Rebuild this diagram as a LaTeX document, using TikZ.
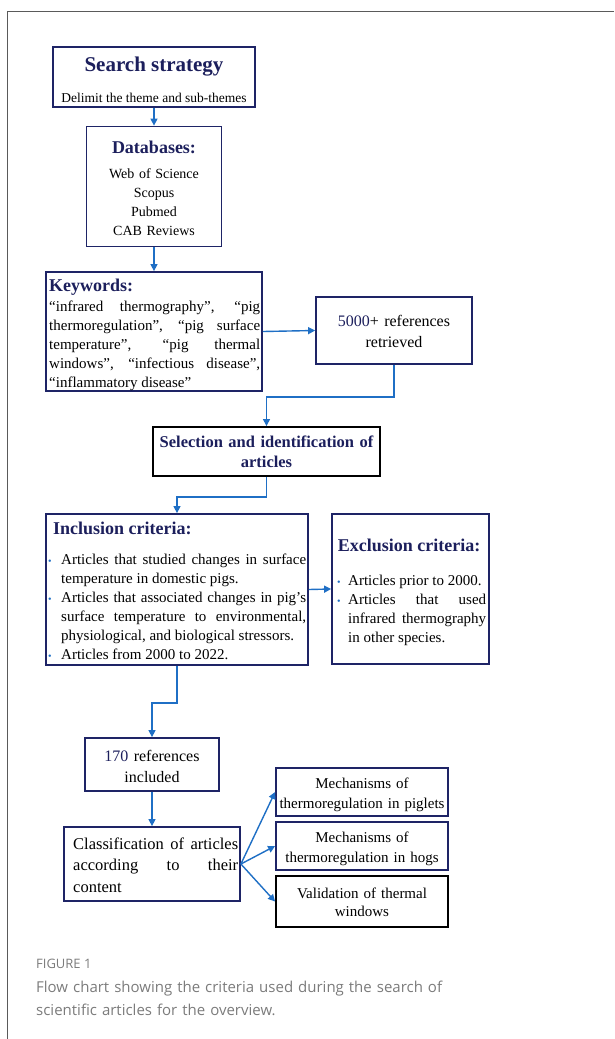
\documentclass[tikz,border=0pt]{standalone}
\usepackage{fontspec}
\setmainfont{Liberation Serif}
\newfontfamily\capfont{Open Sans}
\usetikzlibrary{arrows.meta}
\definecolor{navy}{HTML}{1C1F5C}
\definecolor{boxcol}{HTML}{1E2466}
\definecolor{arrcol}{HTML}{1F6FC5}
\definecolor{capgrey}{HTML}{7B7B7B}
\definecolor{framegrey}{HTML}{5A5A5A}
\tikzset{
  box/.style={draw=boxcol, line width=1.8pt, inner sep=0pt},
  blackbox/.style={draw=black, line width=1.9pt, inner sep=0pt},
  conn/.style={draw=arrcol, line width=1.4pt, -{Triangle[length=7pt,width=7pt]}},
  ctext/.style={anchor=base, inner sep=0pt, align=center},
  jtext/.style={anchor=base west, inner sep=0pt, align=justify},
  ltext/.style={anchor=base west, inner sep=0pt},
  head/.style={font=\bfseries\fontsize{18}{20}\selectfont, text=navy},
  body/.style={font=\fontsize{14}{19}\selectfont},
  jbody/.style={font=\fontsize{15}{19}\selectfont}
}
\newcommand{\bitem}[2]{\noindent\hangindent=#1pt\hangafter=1\makebox[#1pt][l]{\textcolor{arrcol}{\fontsize{10}{10}\selectfont•}}#2\par}
\begin{document}
\begin{tikzpicture}[x=1pt,y=-1pt]
\useasboundingbox (0,0) rectangle (614,1039);
\draw[framegrey, line width=1pt] (614,11) -- (7,11) -- (7,1039);

% boxes
\node[box, minimum width=202, minimum height=60] (ss) at (154,77) {};
\node[box, minimum width=135, minimum height=120] (db) at (154,186.5) {};
\node[box, minimum width=216, minimum height=119] (kw) at (154,331.5) {};
\node[box, minimum width=156, minimum height=67] (r5) at (394,330.5) {};
\node[blackbox, minimum width=227, minimum height=49] (sel) at (266.5,451.5) {};
\node[box, minimum width=262, minimum height=151] (inc) at (177,589.5) {};
\node[box, minimum width=157, minimum height=150] (exc) at (410.5,589) {};
\node[box, minimum width=134, minimum height=53] (r170) at (152,764.5) {};
\node[box, minimum width=176, minimum height=74] (cls) at (152,864) {};
\node[box, minimum width=172, minimum height=48] (m1) at (362,792) {};
\node[box, minimum width=172, minimum height=48] (m2) at (362,846) {};
\node[blackbox, minimum width=172, minimum height=51] (m3) at (362,901.5) {};

% texts
\node[ctext, font=\bfseries\fontsize{21}{24}\selectfont, text=navy] (sst) at (154,71) {Search strategy};
\node[ctext, font=\fontsize{13.5}{16}\selectfont] (ssd) at (154,102) {Delimit the theme and sub-themes};

\node[ctext, head] (dbt) at (154,153) {Databases:};
\node[ctext, body, text width=125] (dbl) at (154,178) {Web of Science\\Scopus\\Pubmed\\CAB Reviews};

\node[ltext, head] (kwt) at (49,291) {Keywords:};
\node[jtext, jbody, text width=211] (kwl) at (49,311) {“infrared thermography”, “pig\linebreak thermoregulation”, “pig surface\linebreak temperature”, “pig thermal\linebreak windows”, “infectious disease”,\linebreak “inflammatory disease”};

\node[ctext, text width=150, font=\fontsize{16}{21}\selectfont] (r5t) at (394,326) {\textcolor{navy}{5000}+ references\\retrieved};

\node[ctext, text width=222, font=\bfseries\fontsize{16.5}{20}\selectfont, text=navy] (selt) at (266.5,447) {Selection and identification of\\articles};

\node[ltext, head] (inct) at (53,534) {Inclusion criteria:};
\node[jtext, jbody, text width=258] (incl) at (48,564) {\bitem{13}{Articles that studied changes in surface\linebreak temperature in domestic pigs.}\bitem{13}{Articles that associated changes in pig’s\linebreak surface temperature to environmental,\linebreak physiological, and biological stressors.}\bitem{13}{Articles from 2000 to 2022.}};

\node[ctext, head] (exct) at (409,551) {Exclusion criteria:};
\node[jtext, jbody, text width=149] (excl) at (337,585) {\bitem{11}{Articles prior to 2000.}\bitem{11}{Articles that used\linebreak infrared thermography\linebreak in other species.}};

\node[ctext, text width=130, font=\fontsize{16}{21}\selectfont] (r170t) at (152,761) {\textcolor{navy}{170} references\\included};

\node[jtext, text width=165, font=\fontsize{16.5}{21.5}\selectfont] (clst) at (73,849) {Classification of articles\linebreak according to their\linebreak content};

\node[ctext, text width=170, font=\fontsize{15}{20}\selectfont] (m1t) at (362,788) {Mechanisms of\\thermoregulation in piglets};
\node[ctext, text width=170, font=\fontsize{15}{20}\selectfont] (m2t) at (362,842) {Mechanisms of\\thermoregulation in hogs};
\node[ctext, text width=170, font=\fontsize{15}{18}\selectfont] (m3t) at (362,898) {Validation of thermal\\windows};

% connectors
\draw[conn] (ss.south) -- (db.north);
\draw[conn] (db.south) -- (kw.north);
\draw[conn] (kw.east) -- (r5.west);
\draw[conn] (r5.south) -- ++(0,32) -| (sel.north);
\draw[conn] (sel.south) -- ++(0,20) -| (inc.north);
\draw[conn] (inc.east) -- (exc.west);
\draw[conn] (inc.south) -- ++(0,37) -| (r170.north);
\draw[conn] (r170.south) -- (cls.north);
\draw[conn] (cls.east) -- (m1.west);
\draw[conn] (cls.east) -- (m2.west);
\draw[conn] (cls.east) -- (m3.west);

% caption
\node[ltext, font=\capfont\fontsize{13}{15}\selectfont, text=capgrey] (figlbl) at (36,968) {FIGURE 1};
\node[anchor=base west, inner sep=0pt, align=left, text width=440, font=\capfont\fontsize{15}{23}\selectfont, text=capgrey] (cap) at (36,992) {Flow chart showing the criteria used during the search of\\scientific articles for the overview.};
\end{tikzpicture}
\end{document}
